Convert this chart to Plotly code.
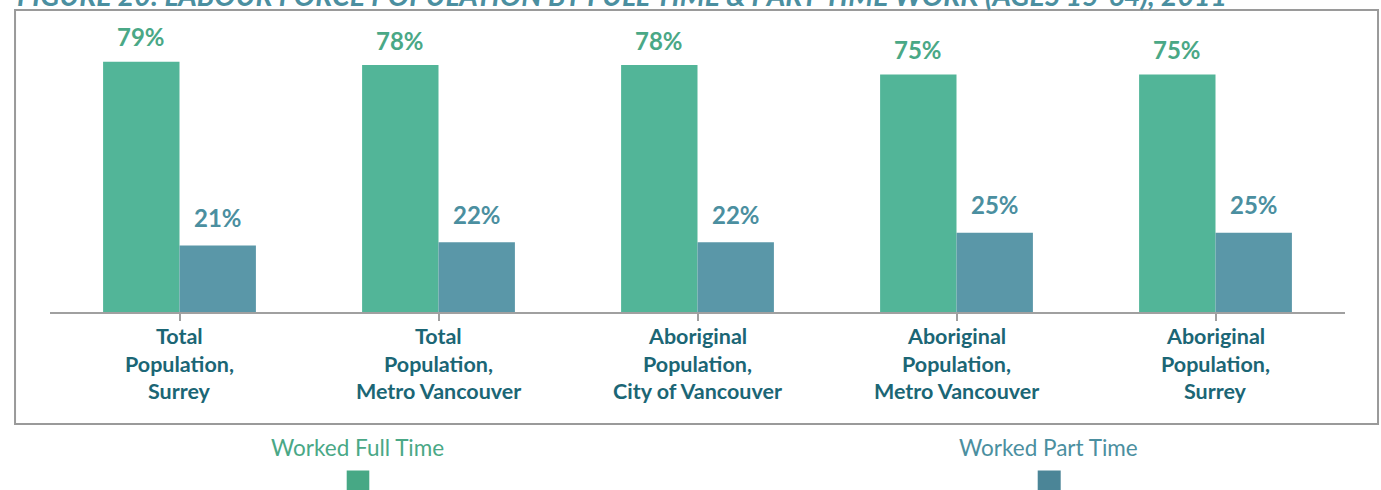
import plotly.graph_objects as go

categories = [
    "Total<br>Population,<br>Surrey",
    "Total<br>Population,<br>Metro Vancouver",
    "Aboriginal<br>Population,<br>City of Vancouver",
    "Aboriginal<br>Population,<br>Metro Vancouver",
    "Aboriginal<br>Population,<br>Surrey",
]
full_time = [79, 78, 78, 75, 75]
part_time = [21, 22, 22, 25, 25]
series_names = ["Worked Full Time", "Worked Part Time"]
title_text = "FIGURE 20: LABOUR FORCE POPULATION BY FULL-TIME & PART-TIME WORK (AGES 15-64), 2011"

FULL_BAR = "#52b598"
PART_BAR = "#5a97a8"
FULL_TXT = "#4aa886"
PART_TXT = "#4b8fa0"
CAT_TXT = "#1b6675"
FONT = "Lato"

x_idx = list(range(len(categories)))

fig = go.Figure()
fig.add_trace(go.Bar(x=x_idx, y=full_time, name=series_names[0],
                     marker=dict(color=FULL_BAR, line=dict(width=0))))
fig.add_trace(go.Bar(x=x_idx, y=part_time, name=series_names[1],
                     marker=dict(color=PART_BAR, line=dict(width=0))))

annotations = []
# value labels
for i, (f, p) in enumerate(zip(full_time, part_time)):
    annotations.append(dict(x=i, y=f, xref="x", yref="y", text=f"<b>{f}%</b>",
                            showarrow=False, xshift=-38.5, yshift=25, yanchor="middle",
                            xanchor="center",
                            font=dict(family=FONT, size=24, color=FULL_TXT)))
    annotations.append(dict(x=i, y=p, xref="x", yref="y", text=f"<b>{p}%</b>",
                            showarrow=False, xshift=38.5, yshift=28, yanchor="middle",
                            xanchor="center",
                            font=dict(family=FONT, size=24, color=PART_TXT)))
# category labels, one line each for wider line spacing
for i, cat in enumerate(categories):
    for j, line in enumerate(cat.split("<br>")):
        annotations.append(dict(x=i, y=0, xref="x", yref="paper", text=f"<b>{line}</b>",
                                showarrow=False, xanchor="center", yanchor="middle",
                                yshift=-(24 + 27.5 * j),
                                font=dict(family=FONT, size=21.5, color=CAT_TXT)))
# legend texts
leg_x = [0.2378, 0.7714]
leg_col = [FULL_TXT, PART_TXT]
for name, lx, c in zip(series_names, leg_x, leg_col):
    annotations.append(dict(x=lx, y=-0.477, xref="paper", yref="paper", text=name,
                            showarrow=False, xanchor="center", yanchor="middle",
                            font=dict(family=FONT, size=22.5, color=c)))
# title (cropped at top in reference)
annotations.append(dict(x=-0.027, y=1.112, xref="paper", yref="paper", text=f"<b><i>{title_text}</i></b>",
                        showarrow=False, xanchor="left", yanchor="middle",
                        font=dict(family=FONT, size=28.5, color=PART_TXT)))

shapes = [
    dict(type="rect", xref="paper", yref="paper", x0=-0.027, x1=1.0255, y0=-0.393, y1=1.0596,
         line=dict(color="#9a9a9a", width=2), fillcolor="rgba(0,0,0,0)", layer="below"),
]
sq_x = [(346.7, 369.3), (1037.7, 1060.7)]
sq_col = ["#47a885", "#4b8597"]
for (a, b), c in zip(sq_x, sq_col):
    shapes.append(dict(type="rect", xref="paper", yref="paper",
                       x0=(a - 50) / 1295, x1=(b - 50) / 1295,
                       y0=(312 - 492) / 285, y1=(312 - 470.5) / 285,
                       line=dict(width=0), fillcolor=c))

fig.update_layout(
    width=1381, height=490,
    margin=dict(l=50, r=36, t=27, b=178),
    paper_bgcolor="white", plot_bgcolor="white",
    barmode="group", bargap=0.41, bargroupgap=0,
    showlegend=False,
    annotations=annotations, shapes=shapes,
    font=dict(family=FONT),
    xaxis=dict(range=[-0.5, len(categories) - 0.5], showline=True, linecolor="#a0a0a0", linewidth=2,
               ticks="outside", tickson="boundaries", ticklen=7, tickcolor="#a0a0a0", tickwidth=2,
               tickvals=x_idx, ticktext=[""] * len(x_idx), showgrid=False, zeroline=False),
    yaxis=dict(range=[0, 90], visible=False, showgrid=False, zeroline=False),
)

fig.write_html("out.html", config={"displayModeBar": False},
               post_script="document.body.style.margin='0';document.body.style.padding='0';document.body.style.overflow='hidden';")
